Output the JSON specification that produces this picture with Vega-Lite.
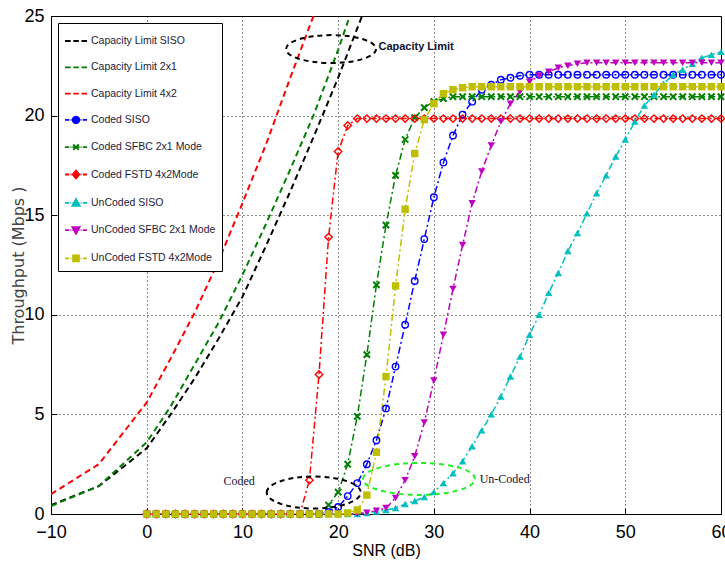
{
"$schema": "https://vega.github.io/schema/vega-lite/v6.json",
"width": 670, "height": 498,
"autosize": {"type": "none"},
"padding": {"left": 51, "top": 16, "right": 4, "bottom": 48},
"background": "white",
"config": {
  "view": {"stroke": "#000", "strokeWidth": 1},
  "axis": {"grid": true, "gridColor": "#000", "gridDash": [1, 3], "gridOpacity": 0.9, "domainColor": "#000", "tickColor": "#000", "tickSize": -6, "labelFlush": false, "labelFont": "Liberation Sans, sans-serif", "labelFontSize": 18, "labelColor": "#000", "labelPadding": 13, "titleFontWeight": "normal"}
},
"datasets": {
  "cap": [
    {"series":"Capacity Limit SISO","snr":-10,"tp":0.45},{"series":"Capacity Limit SISO","snr":-5,"tp":1.4},{"series":"Capacity Limit SISO","snr":0,"tp":3.3},{"series":"Capacity Limit SISO","snr":2.5,"tp":5.0},{"series":"Capacity Limit SISO","snr":5,"tp":6.8},{"series":"Capacity Limit SISO","snr":7.5,"tp":8.8},{"series":"Capacity Limit SISO","snr":10,"tp":10.9},{"series":"Capacity Limit SISO","snr":12.5,"tp":13.5},{"series":"Capacity Limit SISO","snr":15,"tp":16.2},{"series":"Capacity Limit SISO","snr":17.5,"tp":19.0},{"series":"Capacity Limit SISO","snr":20,"tp":21.9},{"series":"Capacity Limit SISO","snr":22.5,"tp":25.0},{"series":"Capacity Limit SISO","snr":25,"tp":28.0},
    {"series":"Capacity Limit 2x1","snr":-10,"tp":0.4},{"series":"Capacity Limit 2x1","snr":-5,"tp":1.4},{"series":"Capacity Limit 2x1","snr":0,"tp":3.6},{"series":"Capacity Limit 2x1","snr":2.5,"tp":5.4},{"series":"Capacity Limit 2x1","snr":5,"tp":7.5},{"series":"Capacity Limit 2x1","snr":7.5,"tp":9.6},{"series":"Capacity Limit 2x1","snr":10,"tp":12.0},{"series":"Capacity Limit 2x1","snr":12.5,"tp":14.6},{"series":"Capacity Limit 2x1","snr":15,"tp":17.3},{"series":"Capacity Limit 2x1","snr":17.5,"tp":20.1},{"series":"Capacity Limit 2x1","snr":20,"tp":23.3},{"series":"Capacity Limit 2x1","snr":22.5,"tp":26.8},
    {"series":"Capacity Limit 4x2","snr":-10,"tp":1.0},{"series":"Capacity Limit 4x2","snr":-5,"tp":2.5},{"series":"Capacity Limit 4x2","snr":0,"tp":5.6},{"series":"Capacity Limit 4x2","snr":2.5,"tp":7.8},{"series":"Capacity Limit 4x2","snr":5,"tp":10.1},{"series":"Capacity Limit 4x2","snr":7.5,"tp":12.7},{"series":"Capacity Limit 4x2","snr":10,"tp":15.6},{"series":"Capacity Limit 4x2","snr":12.5,"tp":18.6},{"series":"Capacity Limit 4x2","snr":15,"tp":21.9},{"series":"Capacity Limit 4x2","snr":17.5,"tp":25.1},{"series":"Capacity Limit 4x2","snr":20,"tp":28.3}
  ],
  "sim": [
    {"series":"Coded SISO","snr":0,"tp":0},{"series":"Coded SISO","snr":1,"tp":0},{"series":"Coded SISO","snr":2,"tp":0},{"series":"Coded SISO","snr":3,"tp":0},{"series":"Coded SISO","snr":4,"tp":0},{"series":"Coded SISO","snr":5,"tp":0},{"series":"Coded SISO","snr":6,"tp":0},{"series":"Coded SISO","snr":7,"tp":0},{"series":"Coded SISO","snr":8,"tp":0},{"series":"Coded SISO","snr":9,"tp":0},{"series":"Coded SISO","snr":10,"tp":0},{"series":"Coded SISO","snr":11,"tp":0},{"series":"Coded SISO","snr":12,"tp":0},{"series":"Coded SISO","snr":13,"tp":0},{"series":"Coded SISO","snr":14,"tp":0},{"series":"Coded SISO","snr":15,"tp":0},{"series":"Coded SISO","snr":16,"tp":0},{"series":"Coded SISO","snr":17,"tp":0},{"series":"Coded SISO","snr":18,"tp":0},{"series":"Coded SISO","snr":19,"tp":0.1},{"series":"Coded SISO","snr":20,"tp":0.35},{"series":"Coded SISO","snr":21,"tp":0.9},{"series":"Coded SISO","snr":22,"tp":1.55},{"series":"Coded SISO","snr":23,"tp":2.5},{"series":"Coded SISO","snr":24,"tp":3.7},{"series":"Coded SISO","snr":25,"tp":5.3},{"series":"Coded SISO","snr":26,"tp":7.4},{"series":"Coded SISO","snr":27,"tp":9.5},{"series":"Coded SISO","snr":28,"tp":11.7},{"series":"Coded SISO","snr":29,"tp":13.8},{"series":"Coded SISO","snr":30,"tp":15.9},{"series":"Coded SISO","snr":31,"tp":17.65},{"series":"Coded SISO","snr":32,"tp":19.0},{"series":"Coded SISO","snr":33,"tp":20.05},{"series":"Coded SISO","snr":34,"tp":20.7},{"series":"Coded SISO","snr":35,"tp":21.3},{"series":"Coded SISO","snr":36,"tp":21.55},{"series":"Coded SISO","snr":37,"tp":21.8},{"series":"Coded SISO","snr":38,"tp":21.9},{"series":"Coded SISO","snr":39,"tp":22.0},{"series":"Coded SISO","snr":40,"tp":22.05},{"series":"Coded SISO","snr":41,"tp":22.05},{"series":"Coded SISO","snr":42,"tp":22.05},{"series":"Coded SISO","snr":43,"tp":22.05},{"series":"Coded SISO","snr":44,"tp":22.05},{"series":"Coded SISO","snr":45,"tp":22.05},{"series":"Coded SISO","snr":46,"tp":22.05},{"series":"Coded SISO","snr":47,"tp":22.05},{"series":"Coded SISO","snr":48,"tp":22.05},{"series":"Coded SISO","snr":49,"tp":22.05},{"series":"Coded SISO","snr":50,"tp":22.05},{"series":"Coded SISO","snr":51,"tp":22.05},{"series":"Coded SISO","snr":52,"tp":22.05},{"series":"Coded SISO","snr":53,"tp":22.05},{"series":"Coded SISO","snr":54,"tp":22.05},{"series":"Coded SISO","snr":55,"tp":22.05},{"series":"Coded SISO","snr":56,"tp":22.05},{"series":"Coded SISO","snr":57,"tp":22.05},{"series":"Coded SISO","snr":58,"tp":22.05},{"series":"Coded SISO","snr":59,"tp":22.05},{"series":"Coded SISO","snr":60,"tp":22.05},
    {"series":"Coded SFBC 2x1 Mode","snr":0,"tp":0},{"series":"Coded SFBC 2x1 Mode","snr":1,"tp":0},{"series":"Coded SFBC 2x1 Mode","snr":2,"tp":0},{"series":"Coded SFBC 2x1 Mode","snr":3,"tp":0},{"series":"Coded SFBC 2x1 Mode","snr":4,"tp":0},{"series":"Coded SFBC 2x1 Mode","snr":5,"tp":0},{"series":"Coded SFBC 2x1 Mode","snr":6,"tp":0},{"series":"Coded SFBC 2x1 Mode","snr":7,"tp":0},{"series":"Coded SFBC 2x1 Mode","snr":8,"tp":0},{"series":"Coded SFBC 2x1 Mode","snr":9,"tp":0},{"series":"Coded SFBC 2x1 Mode","snr":10,"tp":0},{"series":"Coded SFBC 2x1 Mode","snr":11,"tp":0},{"series":"Coded SFBC 2x1 Mode","snr":12,"tp":0},{"series":"Coded SFBC 2x1 Mode","snr":13,"tp":0},{"series":"Coded SFBC 2x1 Mode","snr":14,"tp":0},{"series":"Coded SFBC 2x1 Mode","snr":15,"tp":0},{"series":"Coded SFBC 2x1 Mode","snr":16,"tp":0},{"series":"Coded SFBC 2x1 Mode","snr":17,"tp":0},{"series":"Coded SFBC 2x1 Mode","snr":18,"tp":0},{"series":"Coded SFBC 2x1 Mode","snr":19,"tp":0.45},{"series":"Coded SFBC 2x1 Mode","snr":20,"tp":1.1},{"series":"Coded SFBC 2x1 Mode","snr":21,"tp":2.5},{"series":"Coded SFBC 2x1 Mode","snr":22,"tp":4.9},{"series":"Coded SFBC 2x1 Mode","snr":23,"tp":8.0},{"series":"Coded SFBC 2x1 Mode","snr":24,"tp":11.5},{"series":"Coded SFBC 2x1 Mode","snr":25,"tp":14.5},{"series":"Coded SFBC 2x1 Mode","snr":26,"tp":17.0},{"series":"Coded SFBC 2x1 Mode","snr":27,"tp":18.8},{"series":"Coded SFBC 2x1 Mode","snr":28,"tp":19.9},{"series":"Coded SFBC 2x1 Mode","snr":29,"tp":20.4},{"series":"Coded SFBC 2x1 Mode","snr":30,"tp":20.7},{"series":"Coded SFBC 2x1 Mode","snr":31,"tp":20.85},{"series":"Coded SFBC 2x1 Mode","snr":32,"tp":20.95},{"series":"Coded SFBC 2x1 Mode","snr":33,"tp":20.95},{"series":"Coded SFBC 2x1 Mode","snr":34,"tp":20.95},{"series":"Coded SFBC 2x1 Mode","snr":35,"tp":20.95},{"series":"Coded SFBC 2x1 Mode","snr":36,"tp":20.95},{"series":"Coded SFBC 2x1 Mode","snr":37,"tp":20.95},{"series":"Coded SFBC 2x1 Mode","snr":38,"tp":20.95},{"series":"Coded SFBC 2x1 Mode","snr":39,"tp":20.95},{"series":"Coded SFBC 2x1 Mode","snr":40,"tp":20.95},{"series":"Coded SFBC 2x1 Mode","snr":41,"tp":20.95},{"series":"Coded SFBC 2x1 Mode","snr":42,"tp":20.95},{"series":"Coded SFBC 2x1 Mode","snr":43,"tp":20.95},{"series":"Coded SFBC 2x1 Mode","snr":44,"tp":20.95},{"series":"Coded SFBC 2x1 Mode","snr":45,"tp":20.95},{"series":"Coded SFBC 2x1 Mode","snr":46,"tp":20.95},{"series":"Coded SFBC 2x1 Mode","snr":47,"tp":20.95},{"series":"Coded SFBC 2x1 Mode","snr":48,"tp":20.95},{"series":"Coded SFBC 2x1 Mode","snr":49,"tp":20.95},{"series":"Coded SFBC 2x1 Mode","snr":50,"tp":20.95},{"series":"Coded SFBC 2x1 Mode","snr":51,"tp":20.95},{"series":"Coded SFBC 2x1 Mode","snr":52,"tp":20.95},{"series":"Coded SFBC 2x1 Mode","snr":53,"tp":20.95},{"series":"Coded SFBC 2x1 Mode","snr":54,"tp":20.95},{"series":"Coded SFBC 2x1 Mode","snr":55,"tp":20.95},{"series":"Coded SFBC 2x1 Mode","snr":56,"tp":20.95},{"series":"Coded SFBC 2x1 Mode","snr":57,"tp":20.95},{"series":"Coded SFBC 2x1 Mode","snr":58,"tp":20.95},{"series":"Coded SFBC 2x1 Mode","snr":59,"tp":20.95},{"series":"Coded SFBC 2x1 Mode","snr":60,"tp":20.95},
    {"series":"Coded FSTD 4x2Mode","snr":0,"tp":0},{"series":"Coded FSTD 4x2Mode","snr":1,"tp":0},{"series":"Coded FSTD 4x2Mode","snr":2,"tp":0},{"series":"Coded FSTD 4x2Mode","snr":3,"tp":0},{"series":"Coded FSTD 4x2Mode","snr":4,"tp":0},{"series":"Coded FSTD 4x2Mode","snr":5,"tp":0},{"series":"Coded FSTD 4x2Mode","snr":6,"tp":0},{"series":"Coded FSTD 4x2Mode","snr":7,"tp":0},{"series":"Coded FSTD 4x2Mode","snr":8,"tp":0},{"series":"Coded FSTD 4x2Mode","snr":9,"tp":0},{"series":"Coded FSTD 4x2Mode","snr":10,"tp":0},{"series":"Coded FSTD 4x2Mode","snr":11,"tp":0},{"series":"Coded FSTD 4x2Mode","snr":12,"tp":0},{"series":"Coded FSTD 4x2Mode","snr":13,"tp":0},{"series":"Coded FSTD 4x2Mode","snr":14,"tp":0},{"series":"Coded FSTD 4x2Mode","snr":15,"tp":0},{"series":"Coded FSTD 4x2Mode","snr":16,"tp":0},{"series":"Coded FSTD 4x2Mode","snr":17,"tp":1.7},{"series":"Coded FSTD 4x2Mode","snr":18,"tp":7.0},{"series":"Coded FSTD 4x2Mode","snr":19,"tp":13.9},{"series":"Coded FSTD 4x2Mode","snr":20,"tp":18.2},{"series":"Coded FSTD 4x2Mode","snr":21,"tp":19.5},{"series":"Coded FSTD 4x2Mode","snr":22,"tp":19.85},{"series":"Coded FSTD 4x2Mode","snr":23,"tp":19.85},{"series":"Coded FSTD 4x2Mode","snr":24,"tp":19.85},{"series":"Coded FSTD 4x2Mode","snr":25,"tp":19.85},{"series":"Coded FSTD 4x2Mode","snr":26,"tp":19.85},{"series":"Coded FSTD 4x2Mode","snr":27,"tp":19.85},{"series":"Coded FSTD 4x2Mode","snr":28,"tp":19.85},{"series":"Coded FSTD 4x2Mode","snr":29,"tp":19.85},{"series":"Coded FSTD 4x2Mode","snr":30,"tp":19.85},{"series":"Coded FSTD 4x2Mode","snr":31,"tp":19.85},{"series":"Coded FSTD 4x2Mode","snr":32,"tp":19.85},{"series":"Coded FSTD 4x2Mode","snr":33,"tp":19.85},{"series":"Coded FSTD 4x2Mode","snr":34,"tp":19.85},{"series":"Coded FSTD 4x2Mode","snr":35,"tp":19.85},{"series":"Coded FSTD 4x2Mode","snr":36,"tp":19.85},{"series":"Coded FSTD 4x2Mode","snr":37,"tp":19.85},{"series":"Coded FSTD 4x2Mode","snr":38,"tp":19.85},{"series":"Coded FSTD 4x2Mode","snr":39,"tp":19.85},{"series":"Coded FSTD 4x2Mode","snr":40,"tp":19.85},{"series":"Coded FSTD 4x2Mode","snr":41,"tp":19.85},{"series":"Coded FSTD 4x2Mode","snr":42,"tp":19.85},{"series":"Coded FSTD 4x2Mode","snr":43,"tp":19.85},{"series":"Coded FSTD 4x2Mode","snr":44,"tp":19.85},{"series":"Coded FSTD 4x2Mode","snr":45,"tp":19.85},{"series":"Coded FSTD 4x2Mode","snr":46,"tp":19.85},{"series":"Coded FSTD 4x2Mode","snr":47,"tp":19.85},{"series":"Coded FSTD 4x2Mode","snr":48,"tp":19.85},{"series":"Coded FSTD 4x2Mode","snr":49,"tp":19.85},{"series":"Coded FSTD 4x2Mode","snr":50,"tp":19.85},{"series":"Coded FSTD 4x2Mode","snr":51,"tp":19.85},{"series":"Coded FSTD 4x2Mode","snr":52,"tp":19.85},{"series":"Coded FSTD 4x2Mode","snr":53,"tp":19.85},{"series":"Coded FSTD 4x2Mode","snr":54,"tp":19.85},{"series":"Coded FSTD 4x2Mode","snr":55,"tp":19.85},{"series":"Coded FSTD 4x2Mode","snr":56,"tp":19.85},{"series":"Coded FSTD 4x2Mode","snr":57,"tp":19.85},{"series":"Coded FSTD 4x2Mode","snr":58,"tp":19.85},{"series":"Coded FSTD 4x2Mode","snr":59,"tp":19.85},{"series":"Coded FSTD 4x2Mode","snr":60,"tp":19.85},
    {"series":"UnCoded SISO","snr":0,"tp":0},{"series":"UnCoded SISO","snr":1,"tp":0},{"series":"UnCoded SISO","snr":2,"tp":0},{"series":"UnCoded SISO","snr":3,"tp":0},{"series":"UnCoded SISO","snr":4,"tp":0},{"series":"UnCoded SISO","snr":5,"tp":0},{"series":"UnCoded SISO","snr":6,"tp":0},{"series":"UnCoded SISO","snr":7,"tp":0},{"series":"UnCoded SISO","snr":8,"tp":0},{"series":"UnCoded SISO","snr":9,"tp":0},{"series":"UnCoded SISO","snr":10,"tp":0},{"series":"UnCoded SISO","snr":11,"tp":0},{"series":"UnCoded SISO","snr":12,"tp":0},{"series":"UnCoded SISO","snr":13,"tp":0},{"series":"UnCoded SISO","snr":14,"tp":0},{"series":"UnCoded SISO","snr":15,"tp":0},{"series":"UnCoded SISO","snr":16,"tp":0},{"series":"UnCoded SISO","snr":17,"tp":0},{"series":"UnCoded SISO","snr":18,"tp":0},{"series":"UnCoded SISO","snr":19,"tp":0},{"series":"UnCoded SISO","snr":20,"tp":0},{"series":"UnCoded SISO","snr":21,"tp":0},{"series":"UnCoded SISO","snr":22,"tp":0},{"series":"UnCoded SISO","snr":23,"tp":0.05},{"series":"UnCoded SISO","snr":24,"tp":0.12},{"series":"UnCoded SISO","snr":25,"tp":0.2},{"series":"UnCoded SISO","snr":26,"tp":0.3},{"series":"UnCoded SISO","snr":27,"tp":0.5},{"series":"UnCoded SISO","snr":28,"tp":0.65},{"series":"UnCoded SISO","snr":29,"tp":0.85},{"series":"UnCoded SISO","snr":30,"tp":1.1},{"series":"UnCoded SISO","snr":31,"tp":1.55},{"series":"UnCoded SISO","snr":32,"tp":2.05},{"series":"UnCoded SISO","snr":33,"tp":2.65},{"series":"UnCoded SISO","snr":34,"tp":3.4},{"series":"UnCoded SISO","snr":35,"tp":4.2},{"series":"UnCoded SISO","snr":36,"tp":5.0},{"series":"UnCoded SISO","snr":37,"tp":5.9},{"series":"UnCoded SISO","snr":38,"tp":6.9},{"series":"UnCoded SISO","snr":39,"tp":7.9},{"series":"UnCoded SISO","snr":40,"tp":9.0},{"series":"UnCoded SISO","snr":41,"tp":10.0},{"series":"UnCoded SISO","snr":42,"tp":11.1},{"series":"UnCoded SISO","snr":43,"tp":12.1},{"series":"UnCoded SISO","snr":44,"tp":13.2},{"series":"UnCoded SISO","snr":45,"tp":14.1},{"series":"UnCoded SISO","snr":46,"tp":15.1},{"series":"UnCoded SISO","snr":47,"tp":16.1},{"series":"UnCoded SISO","snr":48,"tp":17.0},{"series":"UnCoded SISO","snr":49,"tp":17.95},{"series":"UnCoded SISO","snr":50,"tp":18.8},{"series":"UnCoded SISO","snr":51,"tp":19.7},{"series":"UnCoded SISO","snr":52,"tp":20.5},{"series":"UnCoded SISO","snr":53,"tp":21.05},{"series":"UnCoded SISO","snr":54,"tp":21.6},{"series":"UnCoded SISO","snr":55,"tp":22.05},{"series":"UnCoded SISO","snr":56,"tp":22.3},{"series":"UnCoded SISO","snr":57,"tp":22.6},{"series":"UnCoded SISO","snr":58,"tp":22.9},{"series":"UnCoded SISO","snr":59,"tp":23.05},{"series":"UnCoded SISO","snr":60,"tp":23.2},
    {"series":"UnCoded SFBC 2x1 Mode","snr":0,"tp":0},{"series":"UnCoded SFBC 2x1 Mode","snr":1,"tp":0},{"series":"UnCoded SFBC 2x1 Mode","snr":2,"tp":0},{"series":"UnCoded SFBC 2x1 Mode","snr":3,"tp":0},{"series":"UnCoded SFBC 2x1 Mode","snr":4,"tp":0},{"series":"UnCoded SFBC 2x1 Mode","snr":5,"tp":0},{"series":"UnCoded SFBC 2x1 Mode","snr":6,"tp":0},{"series":"UnCoded SFBC 2x1 Mode","snr":7,"tp":0},{"series":"UnCoded SFBC 2x1 Mode","snr":8,"tp":0},{"series":"UnCoded SFBC 2x1 Mode","snr":9,"tp":0},{"series":"UnCoded SFBC 2x1 Mode","snr":10,"tp":0},{"series":"UnCoded SFBC 2x1 Mode","snr":11,"tp":0},{"series":"UnCoded SFBC 2x1 Mode","snr":12,"tp":0},{"series":"UnCoded SFBC 2x1 Mode","snr":13,"tp":0},{"series":"UnCoded SFBC 2x1 Mode","snr":14,"tp":0},{"series":"UnCoded SFBC 2x1 Mode","snr":15,"tp":0},{"series":"UnCoded SFBC 2x1 Mode","snr":16,"tp":0},{"series":"UnCoded SFBC 2x1 Mode","snr":17,"tp":0},{"series":"UnCoded SFBC 2x1 Mode","snr":18,"tp":0},{"series":"UnCoded SFBC 2x1 Mode","snr":19,"tp":0},{"series":"UnCoded SFBC 2x1 Mode","snr":20,"tp":0},{"series":"UnCoded SFBC 2x1 Mode","snr":21,"tp":0},{"series":"UnCoded SFBC 2x1 Mode","snr":22,"tp":0.02},{"series":"UnCoded SFBC 2x1 Mode","snr":23,"tp":0.07},{"series":"UnCoded SFBC 2x1 Mode","snr":24,"tp":0.17},{"series":"UnCoded SFBC 2x1 Mode","snr":25,"tp":0.3},{"series":"UnCoded SFBC 2x1 Mode","snr":26,"tp":0.8},{"series":"UnCoded SFBC 2x1 Mode","snr":27,"tp":1.7},{"series":"UnCoded SFBC 2x1 Mode","snr":28,"tp":2.9},{"series":"UnCoded SFBC 2x1 Mode","snr":29,"tp":4.6},{"series":"UnCoded SFBC 2x1 Mode","snr":30,"tp":6.7},{"series":"UnCoded SFBC 2x1 Mode","snr":31,"tp":9.0},{"series":"UnCoded SFBC 2x1 Mode","snr":32,"tp":11.3},{"series":"UnCoded SFBC 2x1 Mode","snr":33,"tp":13.5},{"series":"UnCoded SFBC 2x1 Mode","snr":34,"tp":15.6},{"series":"UnCoded SFBC 2x1 Mode","snr":35,"tp":17.2},{"series":"UnCoded SFBC 2x1 Mode","snr":36,"tp":18.5},{"series":"UnCoded SFBC 2x1 Mode","snr":37,"tp":19.7},{"series":"UnCoded SFBC 2x1 Mode","snr":38,"tp":20.6},{"series":"UnCoded SFBC 2x1 Mode","snr":39,"tp":21.2},{"series":"UnCoded SFBC 2x1 Mode","snr":40,"tp":21.7},{"series":"UnCoded SFBC 2x1 Mode","snr":41,"tp":22.0},{"series":"UnCoded SFBC 2x1 Mode","snr":42,"tp":22.2},{"series":"UnCoded SFBC 2x1 Mode","snr":43,"tp":22.4},{"series":"UnCoded SFBC 2x1 Mode","snr":44,"tp":22.5},{"series":"UnCoded SFBC 2x1 Mode","snr":45,"tp":22.6},{"series":"UnCoded SFBC 2x1 Mode","snr":46,"tp":22.65},{"series":"UnCoded SFBC 2x1 Mode","snr":47,"tp":22.65},{"series":"UnCoded SFBC 2x1 Mode","snr":48,"tp":22.65},{"series":"UnCoded SFBC 2x1 Mode","snr":49,"tp":22.65},{"series":"UnCoded SFBC 2x1 Mode","snr":50,"tp":22.65},{"series":"UnCoded SFBC 2x1 Mode","snr":51,"tp":22.65},{"series":"UnCoded SFBC 2x1 Mode","snr":52,"tp":22.65},{"series":"UnCoded SFBC 2x1 Mode","snr":53,"tp":22.65},{"series":"UnCoded SFBC 2x1 Mode","snr":54,"tp":22.65},{"series":"UnCoded SFBC 2x1 Mode","snr":55,"tp":22.65},{"series":"UnCoded SFBC 2x1 Mode","snr":56,"tp":22.65},{"series":"UnCoded SFBC 2x1 Mode","snr":57,"tp":22.65},{"series":"UnCoded SFBC 2x1 Mode","snr":58,"tp":22.65},{"series":"UnCoded SFBC 2x1 Mode","snr":59,"tp":22.65},{"series":"UnCoded SFBC 2x1 Mode","snr":60,"tp":22.65},
    {"series":"UnCoded FSTD 4x2Mode","snr":0,"tp":0},{"series":"UnCoded FSTD 4x2Mode","snr":1,"tp":0},{"series":"UnCoded FSTD 4x2Mode","snr":2,"tp":0},{"series":"UnCoded FSTD 4x2Mode","snr":3,"tp":0},{"series":"UnCoded FSTD 4x2Mode","snr":4,"tp":0},{"series":"UnCoded FSTD 4x2Mode","snr":5,"tp":0},{"series":"UnCoded FSTD 4x2Mode","snr":6,"tp":0},{"series":"UnCoded FSTD 4x2Mode","snr":7,"tp":0},{"series":"UnCoded FSTD 4x2Mode","snr":8,"tp":0},{"series":"UnCoded FSTD 4x2Mode","snr":9,"tp":0},{"series":"UnCoded FSTD 4x2Mode","snr":10,"tp":0},{"series":"UnCoded FSTD 4x2Mode","snr":11,"tp":0},{"series":"UnCoded FSTD 4x2Mode","snr":12,"tp":0},{"series":"UnCoded FSTD 4x2Mode","snr":13,"tp":0},{"series":"UnCoded FSTD 4x2Mode","snr":14,"tp":0},{"series":"UnCoded FSTD 4x2Mode","snr":15,"tp":0},{"series":"UnCoded FSTD 4x2Mode","snr":16,"tp":0},{"series":"UnCoded FSTD 4x2Mode","snr":17,"tp":0},{"series":"UnCoded FSTD 4x2Mode","snr":18,"tp":0},{"series":"UnCoded FSTD 4x2Mode","snr":19,"tp":0},{"series":"UnCoded FSTD 4x2Mode","snr":20,"tp":0},{"series":"UnCoded FSTD 4x2Mode","snr":21,"tp":0.05},{"series":"UnCoded FSTD 4x2Mode","snr":22,"tp":0.2},{"series":"UnCoded FSTD 4x2Mode","snr":23,"tp":0.95},{"series":"UnCoded FSTD 4x2Mode","snr":24,"tp":3.1},{"series":"UnCoded FSTD 4x2Mode","snr":25,"tp":6.9},{"series":"UnCoded FSTD 4x2Mode","snr":26,"tp":11.45},{"series":"UnCoded FSTD 4x2Mode","snr":27,"tp":15.3},{"series":"UnCoded FSTD 4x2Mode","snr":28,"tp":18.1},{"series":"UnCoded FSTD 4x2Mode","snr":29,"tp":19.8},{"series":"UnCoded FSTD 4x2Mode","snr":30,"tp":20.6},{"series":"UnCoded FSTD 4x2Mode","snr":31,"tp":21.1},{"series":"UnCoded FSTD 4x2Mode","snr":32,"tp":21.3},{"series":"UnCoded FSTD 4x2Mode","snr":33,"tp":21.4},{"series":"UnCoded FSTD 4x2Mode","snr":34,"tp":21.45},{"series":"UnCoded FSTD 4x2Mode","snr":35,"tp":21.45},{"series":"UnCoded FSTD 4x2Mode","snr":36,"tp":21.45},{"series":"UnCoded FSTD 4x2Mode","snr":37,"tp":21.45},{"series":"UnCoded FSTD 4x2Mode","snr":38,"tp":21.45},{"series":"UnCoded FSTD 4x2Mode","snr":39,"tp":21.45},{"series":"UnCoded FSTD 4x2Mode","snr":40,"tp":21.45},{"series":"UnCoded FSTD 4x2Mode","snr":41,"tp":21.45},{"series":"UnCoded FSTD 4x2Mode","snr":42,"tp":21.45},{"series":"UnCoded FSTD 4x2Mode","snr":43,"tp":21.45},{"series":"UnCoded FSTD 4x2Mode","snr":44,"tp":21.45},{"series":"UnCoded FSTD 4x2Mode","snr":45,"tp":21.45},{"series":"UnCoded FSTD 4x2Mode","snr":46,"tp":21.45},{"series":"UnCoded FSTD 4x2Mode","snr":47,"tp":21.45},{"series":"UnCoded FSTD 4x2Mode","snr":48,"tp":21.45},{"series":"UnCoded FSTD 4x2Mode","snr":49,"tp":21.45},{"series":"UnCoded FSTD 4x2Mode","snr":50,"tp":21.45},{"series":"UnCoded FSTD 4x2Mode","snr":51,"tp":21.45},{"series":"UnCoded FSTD 4x2Mode","snr":52,"tp":21.45},{"series":"UnCoded FSTD 4x2Mode","snr":53,"tp":21.45},{"series":"UnCoded FSTD 4x2Mode","snr":54,"tp":21.45},{"series":"UnCoded FSTD 4x2Mode","snr":55,"tp":21.45},{"series":"UnCoded FSTD 4x2Mode","snr":56,"tp":21.45},{"series":"UnCoded FSTD 4x2Mode","snr":57,"tp":21.45},{"series":"UnCoded FSTD 4x2Mode","snr":58,"tp":21.45},{"series":"UnCoded FSTD 4x2Mode","snr":59,"tp":21.45},{"series":"UnCoded FSTD 4x2Mode","snr":60,"tp":21.45}
  ]
},
"encoding": {
  "x": {"field": "snr", "type": "quantitative", "scale": {"domain": [-10, 60], "nice": false, "zero": false},
        "axis": {"values": [-10, 0, 10, 20, 30, 40, 50, 60], "title": "SNR (dB)", "labelPadding": 15, "titleFont": "Liberation Sans, sans-serif", "titleFontSize": 16, "titleColor": "#000", "titlePadding": 1}},
  "y": {"field": "tp", "type": "quantitative", "scale": {"domain": [0, 25], "nice": false},
        "axis": {"values": [0, 5, 10, 15, 20, 25], "title": "Throughput (Mbps )", "titleFont": "DejaVu Sans, sans-serif", "titleFontSize": 16, "titleColor": "#444", "titlePadding": -3}}
},
"layer": [
  {"data": {"name": "cap"},
   "mark": {"type": "line", "strokeDash": [6, 4], "strokeWidth": 2, "clip": true},
   "encoding": {"color": {"field": "series", "type": "nominal",
     "scale": {"domain": ["Capacity Limit SISO","Capacity Limit 2x1","Capacity Limit 4x2","Coded SISO","Coded SFBC 2x1 Mode","Coded FSTD 4x2Mode","UnCoded SISO","UnCoded SFBC 2x1 Mode","UnCoded FSTD 4x2Mode"],
               "range": ["#000000","#008000","#ff0000","#0000ff","#008000","#ff0000","#00bfbf","#bf00bf","#bfbf00"]},
     "legend": {"title": null, "orient": "top-left", "offset": 7, "padding": 6, "rowPadding": 8.3, "symbolSize": 484, "symbolType": "stroke",
       "labelFont": "Liberation Sans, sans-serif", "labelFontSize": 10.5, "labelColor": "#1b1b3a", "labelOffset": 3, "labelLimit": 300,
       "strokeColor": "#000", "fillColor": "#fff",
       "encode": {"symbols": {"update": {
         "shape": {"signal": "['M-1,0H-0.48M-0.24,0H0.26M0.5,0H1','M-1,0H-0.48M-0.24,0H0.26M0.5,0H1','M-1,0H-0.48M-0.24,0H0.26M0.5,0H1','M-1,0H-0.62M-0.5,0H-0.42M-0.32,0H0.32M0.42,0H0.5M0.62,0H1M-0.3,0C-0.3,-0.166,-0.166,-0.3,0,-0.3C0.166,-0.3,0.3,-0.166,0.3,0C0.3,0.166,0.166,0.3,0,0.3C-0.166,0.3,-0.3,0.166,-0.3,0Z','M-1,0H-0.62M-0.5,0H-0.42M-0.32,0H0.32M0.42,0H0.5M0.62,0H1M-0.25,-0.25L0.25,0.25M-0.25,0.25L0.25,-0.25','M-1,0H-0.62M-0.5,0H-0.42M-0.32,0H0.32M0.42,0H0.5M0.62,0H1M0,-0.36L0.3,0L0,0.36L-0.3,0Z','M-1,0H-0.62M-0.5,0H-0.42M-0.32,0H0.32M0.42,0H0.5M0.62,0H1M0,-0.33L0.33,0.27L-0.33,0.27Z','M-1,0H-0.62M-0.5,0H-0.42M-0.32,0H0.32M0.42,0H0.5M0.62,0H1M0,0.33L0.33,-0.27L-0.33,-0.27Z','M-1,0H-0.62M-0.5,0H-0.42M-0.32,0H0.32M0.42,0H0.5M0.62,0H1M-0.27,-0.27H0.27V0.27H-0.27Z'][indexof(['Capacity Limit SISO','Capacity Limit 2x1','Capacity Limit 4x2','Coded SISO','Coded SFBC 2x1 Mode','Coded FSTD 4x2Mode','UnCoded SISO','UnCoded SFBC 2x1 Mode','UnCoded FSTD 4x2Mode'], datum.value)]"},
         "fill": {"scale": "color", "field": "value"},
         "stroke": {"scale": "color", "field": "value"},
         "strokeWidth": {"value": 1.8},
         "strokeDash": {"value": [1, 0]},
         "opacity": {"value": 1}
       }}}}}}},
  {"data": {"name": "sim"},
   "mark": {"type": "line", "strokeDash": [7, 3, 2, 3], "strokeWidth": 1.5},
   "encoding": {"color": {"field": "series", "type": "nominal",
     "scale": {"domain": ["Capacity Limit SISO","Capacity Limit 2x1","Capacity Limit 4x2","Coded SISO","Coded SFBC 2x1 Mode","Coded FSTD 4x2Mode","UnCoded SISO","UnCoded SFBC 2x1 Mode","UnCoded FSTD 4x2Mode"],
               "range": ["#000000","#008000","#ff0000","#0000ff","#008000","#ff0000","#00bfbf","#bf00bf","#bfbf00"]}}}},
  {"data": {"name": "sim"}, "transform": [{"filter": "datum.series === 'Coded SISO'"}],
   "mark": {"type": "point", "shape": "circle", "filled": false, "stroke": "#0000ff", "strokeWidth": 1.4, "size": 42, "opacity": 1}},
  {"data": {"name": "sim"}, "transform": [{"filter": "datum.series === 'Coded SFBC 2x1 Mode'"}],
   "mark": {"type": "point", "shape": "M-1,-1L1,1M-1,1L1,-1", "filled": false, "stroke": "#008000", "strokeWidth": 2, "size": 40, "opacity": 1}},
  {"data": {"name": "sim"}, "transform": [{"filter": "datum.series === 'Coded FSTD 4x2Mode'"}],
   "mark": {"type": "point", "shape": "diamond", "filled": false, "stroke": "#ff0000", "strokeWidth": 1.4, "size": 55, "opacity": 1}},
  {"data": {"name": "sim"}, "transform": [{"filter": "datum.series === 'UnCoded SISO'"}],
   "mark": {"type": "point", "shape": "triangle-up", "filled": true, "color": "#00bfbf", "size": 55, "opacity": 1}},
  {"data": {"name": "sim"}, "transform": [{"filter": "datum.series === 'UnCoded SFBC 2x1 Mode'"}],
   "mark": {"type": "point", "shape": "triangle-down", "filled": true, "color": "#bf00bf", "size": 55, "opacity": 1}},
  {"data": {"name": "sim"}, "transform": [{"filter": "datum.series === 'UnCoded FSTD 4x2Mode'"}],
   "mark": {"type": "point", "shape": "square", "filled": true, "color": "#bfbf00", "size": 55, "opacity": 1}},
  {"data": {"values": [{"snr": 19.26, "tp": 23.34}]},
   "mark": {"type": "point", "shape": "M-1,0C-1,-0.171,-0.552,-0.31,0,-0.31C0.552,-0.31,1,-0.171,1,0C1,0.171,0.552,0.31,0,0.31C-0.552,0.31,-1,0.171,-1,0Z", "size": 8100, "filled": false, "stroke": "#000", "strokeWidth": 2, "strokeDash": [5, 4], "opacity": 1}},
  {"data": {"values": [{"snr": 17.45, "tp": 1.08}]},
   "mark": {"type": "point", "shape": "M-1,0C-1,-0.188,-0.552,-0.34,0,-0.34C0.552,-0.34,1,-0.188,1,0C1,0.188,0.552,0.34,0,0.34C-0.552,0.34,-1,0.188,-1,0Z", "size": 8836, "filled": false, "stroke": "#000", "strokeWidth": 2, "strokeDash": [5, 4], "opacity": 1}},
  {"data": {"values": [{"snr": 28.45, "tp": 1.76}]},
   "mark": {"type": "point", "shape": "M-1,0C-1,-0.158,-0.552,-0.286,0,-0.286C0.552,-0.286,1,-0.158,1,0C1,0.158,0.552,0.286,0,0.286C-0.552,0.286,-1,0.158,-1,0Z", "size": 12544, "filled": false, "stroke": "#22ee22", "strokeWidth": 2, "strokeDash": [5, 4], "opacity": 1}},
  {"data": {"values": [{"snr": 28.14, "tp": 23.45, "label": "Capacity Limit"}]},
   "mark": {"type": "text", "font": "Liberation Sans, sans-serif", "fontWeight": "bold", "fontSize": 11, "color": "#111133", "align": "center", "baseline": "middle"},
   "encoding": {"text": {"field": "label"}}},
  {"data": {"values": [{"snr": 9.65, "tp": 1.66, "label": "Coded"}, {"snr": 37.4, "tp": 1.76, "label": "Un-Coded"}]},
   "mark": {"type": "text", "font": "Liberation Serif, serif", "fontSize": 12, "color": "#111133", "align": "center", "baseline": "middle"},
   "encoding": {"text": {"field": "label"}}}
]
}
